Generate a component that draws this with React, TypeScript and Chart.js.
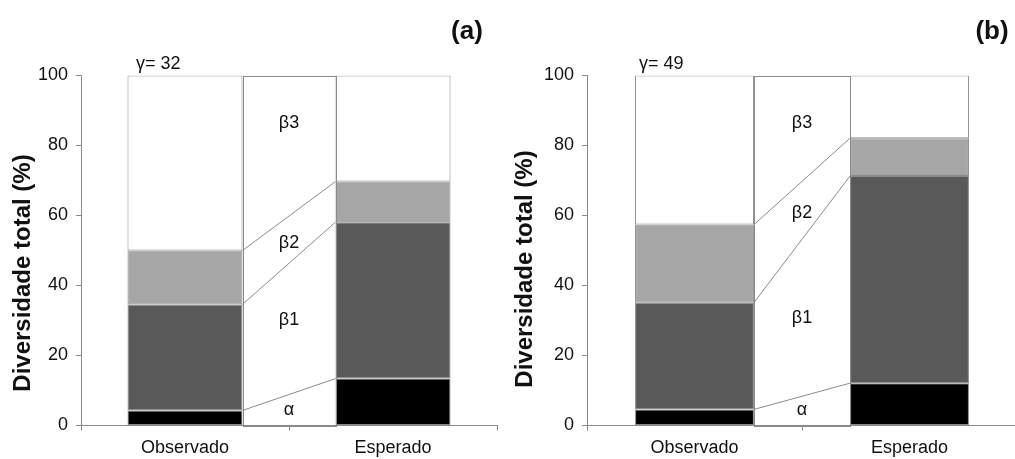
import React, { useEffect, useRef } from "react";
import { Chart, registerables } from "chart.js";

Chart.register(...registerables);

// ---- data ----
const categories = ["Observado", "Esperado"];
const bandLabels = ["α", "β1", "β2", "β3"];

// panel (a)
const alphaA = [4.3, 13.4];
const beta1A = [30.3, 44.7];
const beta2A = [15.4, 11.6];
const beta3A = [50.0, 30.3];
const gammaA = 32;

// panel (b)
const alphaB = [4.6, 12.1];
const beta1B = [30.5, 59.2];
const beta2B = [22.3, 10.8];
const beta3B = [42.6, 17.9];
const gammaB = 49;

const yTicks = [0, 20, 40, 60, 80, 100];
const yTitle = "Diversidade total (%)";

// ---- styles ----
const FONT = "'Liberation Sans', Arial, Helvetica, sans-serif";
const COLORS = ["#000000", "#595959", "#a6a6a6", "#ffffff"];
const LINE = "#8a8a8a";
const TEXT = "#111111";
const H = 459;
const TOP = 75.5;
const BOTTOM = 425.5;

type Panel = {
  letter: string;
  gamma: number;
  series: number[][];
  left: number;
  width: number;
  axisLeft: number;
  padRight: number;
  letterX: number;
  gammaX: number;
  titleX: number;
  titleY: number;
  labelY: number[];
};

const panels: Panel[] = [
  {
    letter: "(a)",
    gamma: gammaA,
    series: [alphaA, beta1A, beta2A, beta3A],
    left: 0,
    width: 507,
    axisLeft: 81,
    padRight: 10,
    letterX: 467,
    gammaX: 136,
    titleX: 23,
    titleY: 273,
    labelY: [4.4, 30.1, 52.1, 86.3],
  },
  {
    letter: "(b)",
    gamma: gammaB,
    series: [alphaB, beta1B, beta2B, beta3B],
    left: 507,
    width: 520,
    axisLeft: 80,
    padRight: 10,
    letterX: 485,
    gammaX: 132,
    titleX: 18,
    titleY: 269,
    labelY: [4.4, 30.6, 60.6, 86.3],
  },
];

function makeOverlay(p: Panel) {
  return {
    id: "overlay",
    afterDatasetsDraw(chart: any) {
      const ctx = chart.ctx;
      const y = chart.scales.y;
      const metas = p.series.map((_, i) => chart.getDatasetMeta(i));
      const obs = metas.map((m: any) => m.data[0]);
      const esp = metas.map((m: any) => m.data[1]);
      const xL = obs[0].x + obs[0].width / 2;
      const xR = esp[0].x - esp[0].width / 2;
      const yTop = y.getPixelForValue(100);
      const y0 = y.getPixelForValue(0);
      ctx.save();
      ctx.strokeStyle = LINE;
      ctx.lineWidth = 1;
      ctx.strokeRect(Math.round(xL) + 0.5, Math.round(yTop) + 0.5, Math.round(xR - xL), Math.round(y0 - yTop));
      for (let i = 0; i < p.series.length - 1; i++) {
        ctx.beginPath();
        ctx.moveTo(xL, obs[i].y);
        ctx.lineTo(xR, esp[i].y);
        ctx.stroke();
      }
      ctx.fillStyle = TEXT;
      ctx.font = `18px ${FONT}`;
      ctx.textAlign = "center";
      ctx.textBaseline = "middle";
      const cx = (xL + xR) / 2;
      bandLabels.forEach((lab, i) => {
        ctx.fillText(lab, cx, y.getPixelForValue(p.labelY[i]));
      });
      ctx.restore();
    },
    afterDraw(chart: any) {
      const ctx = chart.ctx;
      ctx.save();
      ctx.fillStyle = TEXT;
      ctx.textBaseline = "middle";
      ctx.textAlign = "center";
      ctx.font = `bold 26px ${FONT}`;
      ctx.fillText(p.letter, p.letterX, 32);
      ctx.textAlign = "left";
      ctx.font = `18px ${FONT}`;
      ctx.fillText(`γ= ${p.gamma}`, p.gammaX, 64);
      ctx.translate(p.titleX, p.titleY);
      ctx.rotate(-Math.PI / 2);
      ctx.textAlign = "center";
      ctx.font = `bold 24px ${FONT}`;
      ctx.fillText(yTitle, 0, 0);
      ctx.restore();
    },
  };
}

function PanelChart({ p }: { p: Panel }) {
  const ref = useRef<HTMLCanvasElement | null>(null);
  useEffect(() => {
    if (!ref.current) return;
    const chart = new Chart(ref.current, {
      type: "bar",
      data: {
        labels: categories,
        datasets: p.series.map((d, i) => ({
          label: bandLabels[i],
          data: d,
          backgroundColor: COLORS[i],
          borderColor: LINE,
          borderWidth: 1,
          borderSkipped: false,
          barPercentage: 0.553,
          categoryPercentage: 1,
        })),
      },
      options: {
        animation: false,
        responsive: false,
        devicePixelRatio: 1,
        layout: { padding: { left: 0, right: p.padRight, top: TOP, bottom: 0 } },
        plugins: { legend: { display: false }, tooltip: { enabled: false } },
        scales: {
          x: {
            stacked: true,
            offset: true,
            grid: { display: true, drawOnChartArea: false, tickLength: 5, color: LINE, offset: true },
            border: { color: LINE },
            ticks: { font: { family: FONT, size: 18 }, color: TEXT, padding: 7 },
            afterFit: (s: any) => {
              s.height = H - BOTTOM;
            },
          },
          y: {
            stacked: true,
            min: 0,
            max: 100,
            afterBuildTicks: (s: any) => {
              s.ticks = yTicks.map((v) => ({ value: v }));
            },
            grid: { display: true, drawOnChartArea: false, tickLength: 5, color: LINE },
            border: { color: LINE },
            ticks: { font: { family: FONT, size: 18 }, color: TEXT, padding: 8 },
            afterFit: (s: any) => {
              s.width = p.axisLeft;
            },
          },
        },
      } as any,
      plugins: [makeOverlay(p)],
    });
    return () => chart.destroy();
  }, [p]);
  return (
    <canvas
      ref={ref}
      width={p.width}
      height={H}
      style={{ position: "absolute", left: p.left, top: 0, width: p.width, height: H }}
    />
  );
}

export default function App() {
  return (
    <div
      style={{
        position: "fixed",
        left: 0,
        top: 0,
        width: 1015,
        height: H,
        overflow: "hidden",
        background: "#ffffff",
      }}
    >
      {panels.map((p) => (
        <PanelChart key={p.letter} p={p} />
      ))}
    </div>
  );
}
